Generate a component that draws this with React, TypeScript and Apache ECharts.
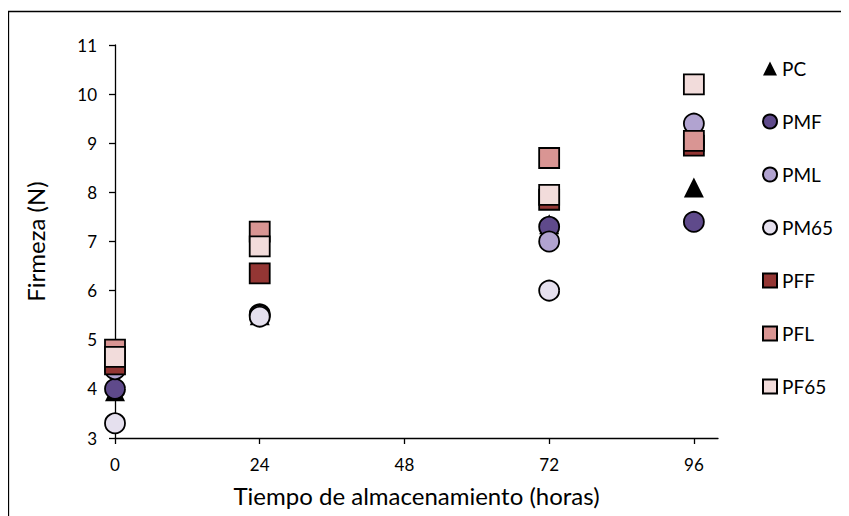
import React, { useEffect, useRef } from "react";
import * as echarts from "echarts";

const hours = [0, 24, 72, 96];
const seriesNames = ["PC", "PMF", "PML", "PM65", "PFF", "PFL", "PF65"];
const PC = [3.95, 5.5, 7.35, 8.1];
const PMF = [4.0, 5.52, 7.3, 7.4];
const PML = [4.4, 5.5, 7.0, 9.4];
const PM65 = [3.3, 5.47, 6.0, 9.0];
const PFF = [4.5, 6.35, 7.85, 8.95];
const PFL = [4.8, 7.2, 8.7, 9.05];
const PF65 = [4.65, 6.9, 7.95, 10.2];
const xTicks = [0, 24, 48, 72, 96];
const yTicks = [3, 4, 5, 6, 7, 8, 9, 10, 11];

const values = [PC, PMF, PML, PM65, PFF, PFL, PF65];
const colors = ["#000000", "#5f4a8b", "#b1a3d0", "#e5e0ee", "#943634", "#d99593", "#f2dcdb"];
const symbols = ["triangle", "circle", "circle", "circle", "rect", "rect", "rect"];
const sizes = [20, 20, 20, 20, 20, 20, 20];
const font = "Lato, 'Open Sans', sans-serif";

export default function App() {
  const ref = useRef<HTMLDivElement>(null);
  useEffect(() => {
    const chart = echarts.init(ref.current!, null, { renderer: "svg" });
    chart.setOption({
      animation: false,
      textStyle: { fontFamily: font },
      grid: { left: 107, right: 131, top: 37, bottom: 78 },
      xAxis: {
        type: "value",
        min: 0,
        max: 100,
        interval: 24,
        name: "Tiempo de almacenamiento (horas)",
        nameLocation: "middle",
        nameGap: 45,
        nameTextStyle: { fontSize: 24, color: "#000", fontFamily: font },
        splitLine: { show: false },
        axisLine: { lineStyle: { color: "#000", width: 1.3 } },
        axisTick: { show: true, length: 6, lineStyle: { color: "#000", width: 1.3 } },
        axisLabel: {
          color: "#000",
          fontSize: 17,
          margin: 18,
          showMaxLabel: false,
          formatter: (v: number) => (xTicks.includes(v) ? String(v) : ""),
        },
      },
      yAxis: {
        type: "value",
        min: yTicks[0],
        max: yTicks[yTicks.length - 1],
        interval: 1,
        name: "Firmeza (N)",
        nameLocation: "middle",
        nameGap: 68,
        nameTextStyle: { fontSize: 24, color: "#000", fontFamily: font },
        splitLine: { show: false },
        axisLine: { show: true, lineStyle: { color: "#000", width: 1.3 } },
        axisTick: { show: true, length: 6, lineStyle: { color: "#000", width: 1.3 } },
        axisLabel: { color: "#000", fontSize: 17, margin: 18 },
      },
      legend: {
        orient: "vertical",
        left: 749,
        top: 46,
        itemGap: 34,
        itemWidth: 14,
        itemHeight: 14,
        textStyle: { fontSize: 19, color: "#000", fontFamily: font },
        data: seriesNames.map((n, i) => ({ name: n, icon: symbols[i] })),
      },
      graphic: [
        { type: "line", shape: { x1: 0.5, y1: 3, x2: 0.5, y2: 600 }, style: { stroke: "#000", lineWidth: 1.3 } },
        { type: "line", shape: { x1: 0, y1: 3.5, x2: 900, y2: 3.5 }, style: { stroke: "#000", lineWidth: 1.3 } },
      ],
      series: seriesNames.map((n, i) => ({
        name: n,
        type: "scatter",
        symbol: symbols[i],
        symbolSize: sizes[i],
        data: hours.map((h, j) => [h, values[i][j]]),
        itemStyle: {
          color: colors[i],
          borderColor: "#000",
          borderWidth: i === 0 ? 0 : 1.8,
          opacity: 1,
        },
        z: 2 + i,
      })),
    });
    return () => chart.dispose();
  }, []);
  return <div ref={ref} style={{ width: 841, height: 508 }} />;
}
